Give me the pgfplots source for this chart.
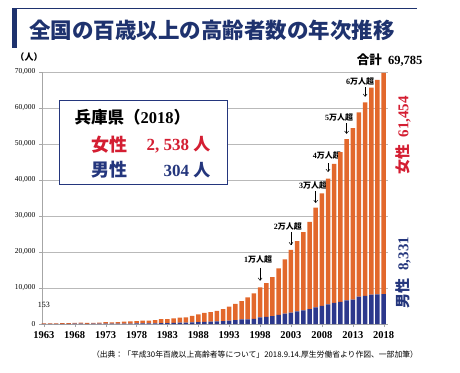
\documentclass[border=0pt]{standalone}
\usepackage{fontspec}
\setmainfont{Liberation Serif}
\newfontfamily\cjk{Noto Sans CJK JP}
\usepackage{pgfplots}
\pgfplotsset{compat=1.18}
\usepackage{pgfplotstable}
\usetikzlibrary{arrows.meta}
\definecolor{barorange}{RGB}{226,104,44}
\definecolor{barblue}{RGB}{44,56,140}
\definecolor{txtred}{RGB}{212,30,50}
\definecolor{txtblue}{RGB}{36,54,125}
\definecolor{titleblue}{RGB}{30,50,110}

\pgfplotstableread{
year men women
1963 20 133
1964 40 151
1965 46 152
1966 59 193
1967 57 198
1968 72 255
1969 72 280
1970 64 246
1971 80 259
1972 80 325
1973 80 415
1974 76 351
1975 102 446
1976 111 555
1977 107 593
1978 144 634
1979 145 792
1980 174 794
1981 174 898
1982 231 1123
1983 238 1128
1984 299 1268
1985 359 1381
1986 366 1485
1987 464 1807
1988 505 2163
1989 590 2488
1990 680 2618
1991 711 2914
1992 822 3330
1993 941 3861
1994 1046 4547
1995 1255 5123
1996 1314 6059
1997 1430 7061
1998 1812 8346
1999 1973 9373
2000 2158 10878
2001 2541 12934
2002 2875 15059
2003 3159 17402
2004 3523 19515
2005 3779 21775
2006 4150 24245
2007 4613 27682
2008 5063 31213
2009 5447 34952
2010 5869 38580
2011 6162 41594
2012 6534 44842
2013 6791 47606
2014 7586 51234
2015 7840 53728
2016 8167 57525
2017 8197 59627
2018 8331 61454
}\datatable

\begin{document}
\begin{tikzpicture}
\path[use as bounding box] (0pt,0pt) rectangle (460pt,372pt);
% title decoration
\draw[titleblue, line width=1pt] (12pt,363pt) -- (417pt,363pt);
\fill[titleblue] (12pt,324pt) rectangle (16.5pt,363.5pt);
\node[titleblue, font=\cjk\bfseries\fontsize{21.5}{24}\selectfont] at (212pt,342pt) {全国の百歳以上の高齢者数の年次推移};
\node[font=\cjk\bfseries\fontsize{9}{10}\selectfont] at (29pt,315pt) {（人）};
\node[anchor=east, font=\bfseries\fontsize{12.5}{13}\selectfont] at (426pt,312pt) {{\cjk 合計}\ \ 69,785};

\begin{axis}[
  at={(42pt,48pt)}, anchor=south west,
  scale only axis, width=346pt, height=252pt,
  xmin=1962.7, xmax=2018.7, ymin=0, ymax=70000,
  enlargelimits=false,
  ybar stacked, bar width=4.5pt,
  axis x line*=bottom, axis y line*=left,
  axis line style={gray!70, -},
  tick align=outside,
  major tick length=3pt,
  tick style={gray!70},
  xtick={1963,1968,...,2018},
  ytick={0,10000,...,70000},
  ymajorgrids,
  grid style={gray!55, line width=0.6pt},
  scaled y ticks=false,
  /pgf/number format/assume math mode=true,
  yticklabel style={/pgf/number format/1000 sep={,}, font=\fontsize{7.5}{8}\selectfont},
  xticklabel style={/pgf/number format/1000 sep={}, font=\bfseries\fontsize{10.5}{11}\selectfont, yshift=-1pt},
  clip=false,
]
\addplot[fill=barblue, draw=none] table[x=year, y=men] {\datatable};
\addplot[fill=barorange, draw=none] table[x=year, y=women] {\datatable};

\node[font=\fontsize{8}{9}\selectfont] at (axis cs:1963,5300) {153};
\tikzset{ann/.style={font=\bfseries\fontsize{8}{9}\selectfont}, arr/.style={-{Straight Barb[length=2.5pt,width=4pt]}, line width=0.5pt}}
\node[ann] at (axis cs:1997.7,17800) {1{\cjk 万人超}};
\draw[arr] (axis cs:1998,15600) -- (axis cs:1998,12000);
\node[ann] at (axis cs:2002.5,27200) {2{\cjk 万人超}};
\draw[arr] (axis cs:2003,25600) -- (axis cs:2003,21900);
\node[ann] at (axis cs:2006.6,38600) {3{\cjk 万人超}};
\draw[arr] (axis cs:2007,36900) -- (axis cs:2007,33600);
\node[ann] at (axis cs:2008.8,46900) {4{\cjk 万人超}};
\draw[arr] (axis cs:2009,44700) -- (axis cs:2009,42200);
\node[ann] at (axis cs:2010.8,57500) {5{\cjk 万人超}};
\draw[arr] (axis cs:2012,55800) -- (axis cs:2012,52800);
\node[ann] at (axis cs:2014.2,67500) {6{\cjk 万人超}};
\draw[arr] (axis cs:2015,65800) -- (axis cs:2015,63100);
\end{axis}

% info box
\draw[txtblue, fill=white, line width=0.8pt] (59pt,188pt) rectangle (227pt,272pt);
\node[anchor=west, font=\bfseries\fontsize{16.5}{18}\selectfont] at (71pt,255pt) {{\cjk 兵庫県（}2018{\cjk ）}};
\node[anchor=west, txtred, font=\cjk\bfseries\fontsize{18}{20}\selectfont] at (88pt,227pt) {女性};
\node[anchor=east, txtred, font=\bfseries\fontsize{17}{20}\selectfont] at (214pt,227pt) {2, 538 {\cjk 人}};
\node[anchor=west, txtblue, font=\cjk\bfseries\fontsize{18}{20}\selectfont] at (88pt,202pt) {男性};
\node[anchor=east, txtblue, font=\bfseries\fontsize{17}{20}\selectfont] at (214pt,202pt) {304 {\cjk 人}};

% right labels
\node[rotate=90, txtred, font=\bfseries\fontsize{15}{16}\selectfont] at (403pt,236.5pt) {{\cjk 女性}\ \ 61,454};
\node[rotate=90, txtblue, font=\bfseries\fontsize{15}{16}\selectfont] at (403pt,99.5pt) {{\cjk 男性}\ \ 8,331};

% source
\node[font=\cjk\fontsize{7.8}{9}\selectfont] at (255pt,17pt) {（出典：「平成30年百歳以上高齢者等について」2018.9.14.厚生労働省より作図、一部加筆）};
\end{tikzpicture}
\end{document}
